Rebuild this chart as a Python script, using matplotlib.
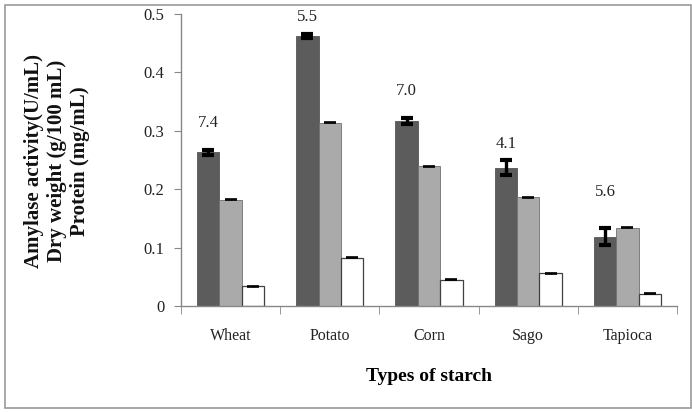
import matplotlib
matplotlib.use("Agg")
import matplotlib.pyplot as plt
import numpy as np
from matplotlib.patches import Rectangle

plt.rcParams['font.family'] = ['Liberation Serif', 'DejaVu Serif']

starches = ["Wheat", "Potato", "Corn", "Sago", "Tapioca"]
amylase = [0.263, 0.462, 0.317, 0.237, 0.119]
amylase_err = [0.004, 0.003, 0.005, 0.013, 0.015]
dry_weight = [0.182, 0.314, 0.239, 0.186, 0.134]
dry_weight_err = [0.001, 0.001, 0.001, 0.001, 0.001]
protein = [0.034, 0.083, 0.045, 0.056, 0.021]
protein_err = [0.001, 0.001, 0.001, 0.001, 0.001]
ratio_labels = ["7.4", "5.5", "7.0", "4.1", "5.6"]
y_ticks = [0, 0.1, 0.2, 0.3, 0.4, 0.5]
y_tick_labels = ["0", "0.1", "0.2", "0.3", "0.4", "0.5"]

fig = plt.figure(figsize=(6.92, 4.12), dpi=100)
ax = fig.add_axes([181 / 692, 1 - 306 / 412, (677 - 181) / 692, (306 - 14) / 412])

x = np.arange(len(starches))
w = 0.226
edge = "#404040"

ax.bar(x - w, amylase, w, color="#5c5c5c", edgecolor="#555555", linewidth=0.6,
       yerr=amylase_err, error_kw=dict(ecolor="black", elinewidth=2.4, capsize=4, capthick=3))
ax.bar(x, dry_weight, w, color="#aaaaaa", edgecolor="#707070", linewidth=0.6,
       yerr=dry_weight_err, error_kw=dict(ecolor="black", elinewidth=1, capsize=4, capthick=1.2))
ax.bar(x + w, protein, w, color="white", edgecolor=edge, linewidth=0.9,
       yerr=protein_err, error_kw=dict(ecolor="black", elinewidth=1, capsize=4, capthick=1.2))

# ratio labels above the amylase bars
label_offsets = [14, 7, 14, 6, 20]
for xi, v, e, lab, off in zip(x, amylase, amylase_err, ratio_labels, label_offsets):
    ax.annotate(lab, (xi - w, v + e), xytext=(0, off), textcoords="offset points",
                ha="center", va="bottom", fontsize=12, color="#222222")

ax.set_xlim(-0.5, len(starches) - 0.5)
ax.set_ylim(0, 0.5)
ax.set_yticks(y_ticks)
ax.set_yticklabels(y_tick_labels, fontsize=12, color="#222222")
ax.set_xticks(x)
ax.set_xticklabels(starches, fontsize=11.5, color="#222222")
ax.set_xticks(np.arange(len(starches) + 1) - 0.5, minor=True)
ax.tick_params(axis="x", which="major", length=0, pad=16)
ax.tick_params(axis="x", which="minor", length=6, color="#888888", direction="out")
ax.tick_params(axis="y", length=5, color="#888888", pad=7)

for s in ["top", "right"]:
    ax.spines[s].set_visible(False)
for s in ["left", "bottom"]:
    ax.spines[s].set_color("#888888")
    ax.spines[s].set_linewidth(1)

ax.set_xlabel("Types of starch", fontsize=14, fontweight="bold", labelpad=17)
fig.text(57 / 692, 1 - 161 / 412,
         "Amylase activity(U/mL)\nDry weight (g/100 mL)\nProtein (mg/mL)",
         rotation=90, ha="center", va="center", fontsize=15, fontweight="bold",
         linespacing=1.2, color="#111111")

fig.patches.append(Rectangle((5 / 692, 4 / 412), 686 / 692, 403 / 412,
                             transform=fig.transFigure, fill=False,
                             edgecolor="#9a9a9a", linewidth=1.2))

fig.savefig("out.png", dpi=100)
